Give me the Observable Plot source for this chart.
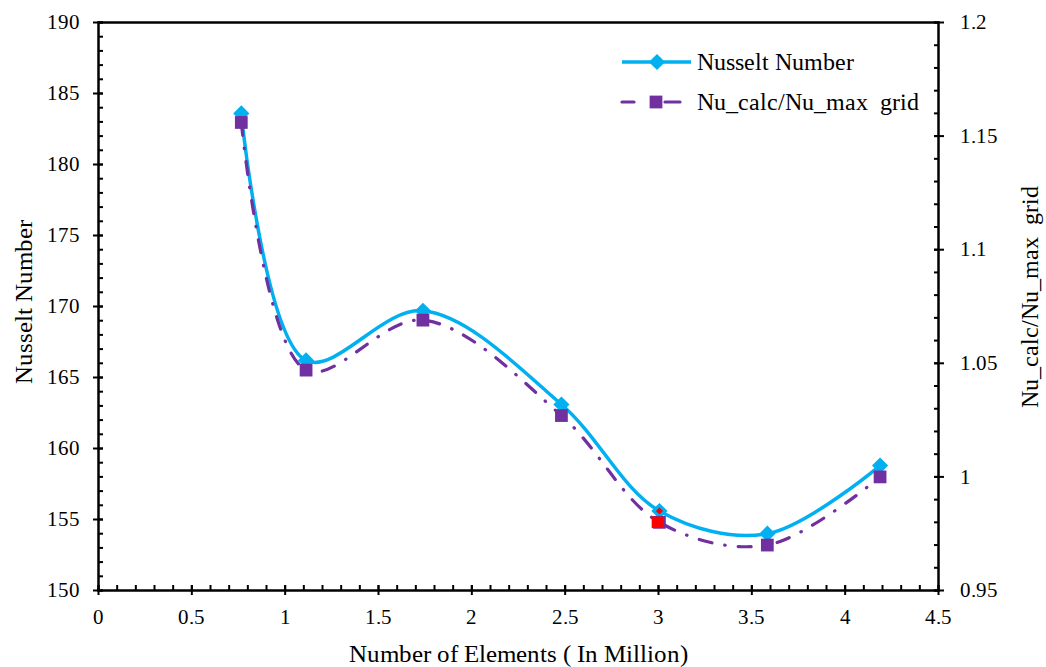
<!DOCTYPE html>
<html><head><meta charset="utf-8">
<script src="https://cdn.jsdelivr.net/npm/d3@7"></script>
<script src="https://cdn.jsdelivr.net/npm/@observablehq/plot@0.6"></script>
<style>
@font-face{font-family:"ChartSerif";src:local("Liberation Serif"),local("LiberationSerif"),local("LiberationSerif-Regular"),local("Times New Roman"),local("DejaVu Serif"),local("DejaVuSerif");}
body{margin:0;background:#fff}
#wrap{position:relative;width:1046px;height:667px}
#legend{position:absolute;left:0;top:0}
</style>
</head><body><div id="wrap"></div>
<script>
// ---- data ----
const elements = [0.765, 1.112, 1.738, 2.48, 3.005, 3.583, 4.187];   // million elements
const nusselt  = [183.6, 166.2, 169.7, 163.1, 155.6, 154.0, 158.8];  // left axis
const ratio    = [1.156, 1.047, 1.069, 1.027, 0.980, 0.970, 1.000];  // right axis
const highlightX = [3.005];
const highlightNu = [155.6];
const highlightRatio = [0.980];

const xTicks = [0, 0.5, 1, 1.5, 2, 2.5, 3, 3.5, 4, 4.5];
const yTicks = [150, 155, 160, 165, 170, 175, 180, 185, 190];
const rTicks = [0.95, 1, 1.05, 1.1, 1.15, 1.2];
const xMinorStep = 0.1, yMinorStep = 1, rMinorStep = 0.01;

const seriesNames = ["Nusselt Number", "Nu_calc/Nu_max\u00a0 grid"];
const xTitle = "Number of Elements ( In Million)";
const yTitle = "Nusselt Number";
const rTitle = "Nu_calc/Nu_max\u00a0 grid";

// ---- helpers ----
const R0 = 0.95, R1 = 1.2, Y0 = 150, Y1 = 190;
const toLeft = r => Y0 + (r - R0) * (Y1 - Y0) / (R1 - R0);
const fromLeft = y => +((y - Y0) * (R1 - R0) / (Y1 - Y0) + R0).toFixed(2);

const xMinor = d3.range(0, 4.5 + 1e-9, xMinorStep);
const yMinor = d3.range(Y0, Y1 + 1e-9, yMinorStep);
const rMinor = d3.range(R0, R1 + 1e-9, rMinorStep).map(toLeft);
const rMajor = rTicks.map(toLeft);

const data = elements.map((x, i) => ({x, nu: nusselt[i], r: ratio[i]}));
const hi = highlightX.map((x, i) => ({x, nu: highlightNu[i], r: highlightRatio[i]}));

const BLUE = "#00B0F0", PURPLE = "#7030A0";
const W = 1046, H = 667, ML = 98, MR = 108, MT = 22, MB = 77;
const FONT = "ChartSerif, 'Liberation Serif', 'DejaVu Serif', Times, serif";
const AX = {stroke: "black", strokeWidth: 2};
const TX = {fontFamily: FONT, fontSize: 21, fill: "black"};

const chart = Plot.plot({
  width: W, height: H,
  marginLeft: ML, marginRight: MR, marginTop: MT, marginBottom: MB,
  style: {fontFamily: FONT, fontSize: "21px", color: "black", background: "white", overflow: "visible"},
  x: {domain: [0, 4.5], label: null},
  y: {domain: [Y0, Y1], label: null},
  marks: [
    Plot.line(data, {x: "x", y: "nu", curve: "catmull-rom", stroke: BLUE, strokeWidth: 3.5}),
    Plot.dot(data, {x: "x", y: "nu", symbol: "diamond2", r: 7.3, fill: BLUE, stroke: null}),
    Plot.line(data, {x: "x", y: d => toLeft(d.r), curve: "catmull-rom", stroke: PURPLE, strokeWidth: 3.2,
      strokeDasharray: "13,13,0.5,13", strokeLinecap: "round"}),
    Plot.dot(data, {x: "x", y: d => toLeft(d.r), symbol: "square", r: 7.2, fill: PURPLE, stroke: null}),
    Plot.dot(hi, {x: "x", y: d => toLeft(d.r), symbol: "square", r: 6.5, fill: "#FF0000", stroke: null, dx: -2}),
    Plot.dot(hi, {x: "x", y: "nu", symbol: "diamond2", r: 3.2, fill: "#FF0000", stroke: null}),

    Plot.frame({stroke: "black", strokeWidth: 2.5}),

    // x axis
    Plot.axisX(xMinor, {tickSize: 5, dy: -5, tickFormat: () => "", ...AX}),
    Plot.axisX(xTicks, {tickSize: 10, dy: -5, tickFormat: () => "", ...AX}),
    Plot.axisX(xTicks, {tickSize: 0, tickPadding: 19, tickFormat: d => String(d), ...TX}),
    // left axis
    Plot.axisY(yMinor, {anchor: "left", tickSize: 5, dx: 5, tickFormat: () => "", ...AX}),
    Plot.axisY(yTicks, {anchor: "left", tickSize: 10, dx: 5, tickFormat: () => "", ...AX}),
    Plot.axisY(yTicks, {anchor: "left", tickSize: 0, tickPadding: 19, tickFormat: d => String(d), ...TX}),
    // right axis
    Plot.axisY(rMinor, {anchor: "right", tickSize: 5, dx: -5, tickFormat: () => "", ...AX}),
    Plot.axisY(rMajor, {anchor: "right", tickSize: 10, dx: -5, tickFormat: () => "", ...AX}),
    Plot.axisY(rMajor, {anchor: "right", tickSize: 0, tickPadding: 21, tickFormat: d => String(fromLeft(d)), ...TX}),

    // axis titles
    Plot.text([xTitle], {text: d => d, frameAnchor: "bottom", dy: 63, lineAnchor: "middle", textAnchor: "middle", ...TX, fontSize: 25}),
    Plot.text([yTitle], {text: d => d, frameAnchor: "left", dx: -75, dy: -5, rotate: -90, lineAnchor: "middle", textAnchor: "middle", ...TX, fontSize: 25}),
    Plot.text([rTitle], {text: d => d, frameAnchor: "right", dx: 92, dy: -10, rotate: -90, lineAnchor: "middle", textAnchor: "middle", ...TX, fontSize: 24})
  ]
});
const wrap = document.getElementById("wrap");
wrap.appendChild(chart);

// ---- legend (inside plot, top right) ----
const lg = d3.select(wrap).append("svg").attr("id", "legend").attr("width", W).attr("height", 140)
  .attr("font-family", FONT).attr("font-size", 24).style("font-family", FONT);
const row1 = lg.append("g").attr("transform", "translate(0,62)");
row1.append("line").attr("x1", 622).attr("x2", 691).attr("stroke", BLUE).attr("stroke-width", 3.5);
row1.append("path").attr("d", d3.symbol(d3.symbolDiamond2, Math.PI * 7.3 * 7.3)()).attr("transform", "translate(657,0)").attr("fill", BLUE);
row1.append("text").attr("x", 697).attr("dy", "0.32em").attr("font-family", FONT).text(seriesNames[0]);
const row2 = lg.append("g").attr("transform", "translate(0,102)");
row2.append("line").attr("x1", 622).attr("x2", 680).attr("stroke", PURPLE).attr("stroke-width", 3.2)
  .attr("stroke-dasharray", "12,31,15").attr("stroke-linecap", "round");
row2.append("path").attr("d", d3.symbol(d3.symbolSquare, Math.PI * 7.2 * 7.2)()).attr("transform", "translate(656,0)").attr("fill", PURPLE);
row2.append("text").attr("x", 697).attr("dy", "0.32em").attr("font-family", FONT).text(seriesNames[1]);
</script>
</body></html>
